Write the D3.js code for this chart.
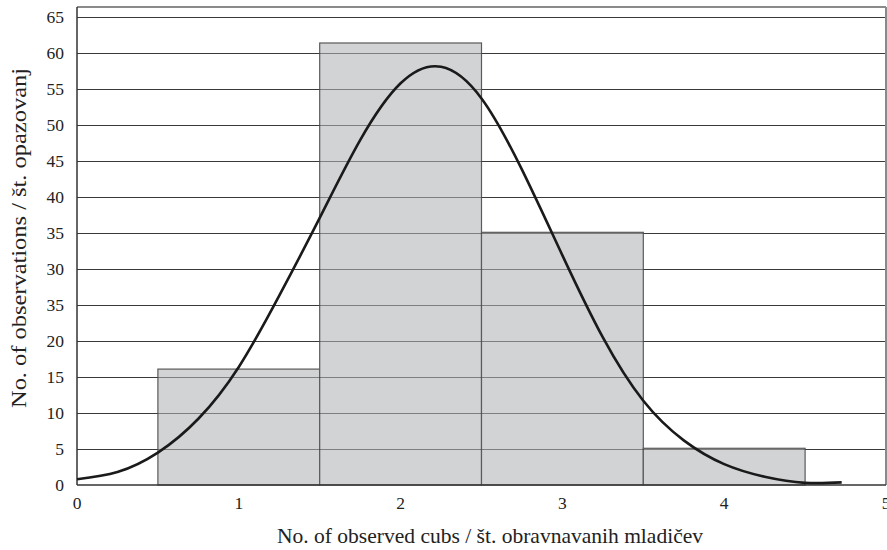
<!DOCTYPE html>
<html>
<head>
<meta charset="utf-8">
<script src="https://cdn.jsdelivr.net/npm/d3@7"></script>
<style>
  html, body { margin: 0; padding: 0; background: #fff; }
  svg { display: block; }
  text { font-family: "Liberation Serif", "Times New Roman", serif; fill: #222; }
</style>
</head>
<body>
<svg id="chart" width="887" height="550"></svg>
<script>
// Histogram bins: centre (number of cubs) and observation counts
const binCentres = [1, 2, 3, 4];
const binCounts = [16.1, 61.4, 35.1, 5.1];

// Fitted curve, sampled along the x axis
const curveX = [0, 0.25, 0.5, 0.75, 1.0, 1.25, 1.5, 1.75, 2.0, 2.25, 2.5, 2.75, 3.0, 3.25, 3.5, 3.75, 4.0, 4.25, 4.5, 4.726];
const curveY = [0.8, 1.8, 4.5, 9.2, 16.4, 26.3, 37.1, 47.9, 55.8, 58.1, 53.7, 43.8, 31.9, 20.5, 11.7, 6.2, 2.9, 1.15, 0.3, 0.37];

// Axis ticks (the printed labels are kept as published)
const xTicks = [0, 1, 2, 3, 4, 5];
const yTicks = [0, 5, 10, 15, 20, 25, 30, 35, 40, 45, 50, 55, 60, 65];
const yTickLabels = ["0", "5", "10", "15", "20", "35", "30", "35", "40", "45", "50", "55", "60", "65"];

const xTitle = "No. of observed cubs / št. obravnavanih mladičev";
const yTitle = "No. of observations / št. opazovanj";

const svg = d3.select("#chart");
const plotLeft = 77, plotRight = 886, plotTop = 7, plotBottom = 485;

const x = d3.scaleLinear().domain([0, 5]).range([plotLeft, plotRight]);
const y = d3.scaleLinear().domain([0, 66.4]).range([plotBottom, plotTop]);

const gridY = d => Math.round(y(d)) + 0.5;

// Horizontal grid lines
svg.append("g")
  .selectAll("line")
  .data(yTicks.slice(1))
  .join("line")
  .attr("x1", plotLeft).attr("x2", plotRight)
  .attr("y1", gridY).attr("y2", gridY)
  .attr("stroke", "#3a3a3a").attr("stroke-width", 1);

// Histogram bars
svg.append("g")
  .selectAll("rect")
  .data(binCentres.map((c, i) => ({ c, v: binCounts[i] })))
  .join("rect")
  .attr("x", d => x(d.c - 0.5))
  .attr("width", d => x(d.c + 0.5) - x(d.c - 0.5))
  .attr("y", d => y(d.v))
  .attr("height", d => y(0) - y(d.v))
  .attr("fill", "#d2d3d5")
  .attr("stroke", "#5a5a5a")
  .attr("stroke-width", 1.2);

// Grid lines show through the bars
svg.append("g")
  .selectAll("line")
  .data(yTicks.slice(1))
  .join("line")
  .attr("x1", plotLeft).attr("x2", plotRight)
  .attr("y1", gridY).attr("y2", gridY)
  .attr("stroke", "#3a3a3a").attr("stroke-opacity", 0.55).attr("stroke-width", 1);

// Frame: top and right in grey, left and bottom axis lines in dark
svg.append("line").attr("x1", plotLeft).attr("x2", plotRight).attr("y1", plotTop).attr("y2", plotTop)
  .attr("stroke", "#8a8a8a").attr("stroke-width", 2);
svg.append("line").attr("x1", plotRight).attr("x2", plotRight).attr("y1", plotTop).attr("y2", plotBottom)
  .attr("stroke", "#8a8a8a").attr("stroke-width", 2);
svg.append("line").attr("x1", plotLeft).attr("x2", plotRight).attr("y1", plotBottom).attr("y2", plotBottom)
  .attr("stroke", "#333").attr("stroke-width", 1.5);
svg.append("line").attr("x1", plotLeft).attr("x2", plotLeft).attr("y1", plotTop).attr("y2", plotBottom)
  .attr("stroke", "#333").attr("stroke-width", 1.5);

// Fitted curve (natural spline through the sampled points)
const line = d3.line()
  .x(d => x(d[0]))
  .y(d => y(d[1]))
  .curve(d3.curveNatural);
svg.append("path")
  .datum(curveX.map((v, i) => [v, curveY[i]]))
  .attr("d", line)
  .attr("fill", "none")
  .attr("stroke", "#1a1a1a")
  .attr("stroke-width", 2.6)
  .attr("stroke-linejoin", "round");

// Y axis labels
svg.append("g")
  .selectAll("text")
  .data(yTicks)
  .join("text")
  .attr("x", 64)
  .attr("y", d => y(d))
  .attr("dy", "0.35em")
  .attr("text-anchor", "end")
  .attr("font-size", 17.5)
  .text((d, i) => yTickLabels[i]);

// X axis labels
svg.append("g")
  .selectAll("text")
  .data(xTicks)
  .join("text")
  .attr("x", d => x(d))
  .attr("y", 509)
  .attr("text-anchor", "middle")
  .attr("font-size", 17.5)
  .text(d => d);

// Axis titles
svg.append("text")
  .attr("x", 490)
  .attr("y", 543)
  .attr("text-anchor", "middle")
  .attr("font-size", 21.5)
  .attr("textLength", 426)
  .attr("lengthAdjust", "spacingAndGlyphs")
  .text(xTitle);

svg.append("text")
  .attr("transform", "translate(26, 238) rotate(-90)")
  .attr("text-anchor", "middle")
  .attr("font-size", 21.5)
  .attr("textLength", 340)
  .attr("lengthAdjust", "spacingAndGlyphs")
  .text(yTitle);
</script>
</body>
</html>
